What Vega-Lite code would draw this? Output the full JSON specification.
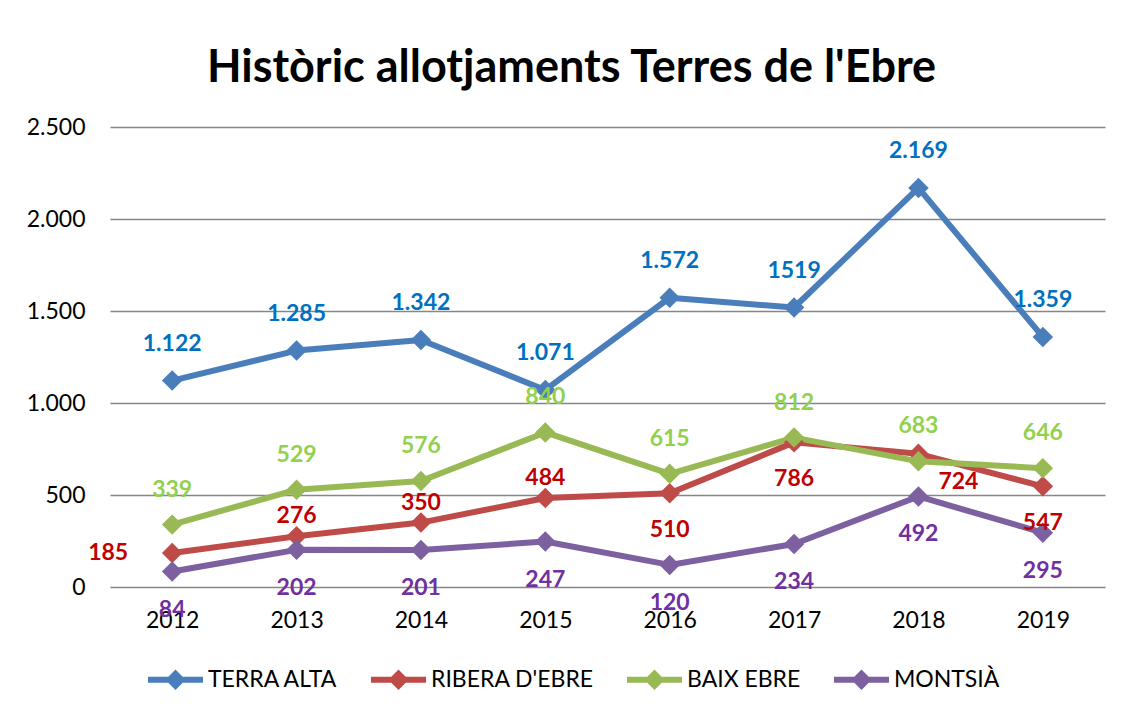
{
  "$schema": "https://vega.github.io/schema/vega-lite/v6.json",
  "width": 995,
  "height": 460,
  "autosize": {"type": "none"},
  "padding": {"left": 110, "top": 127, "right": 17, "bottom": 121},
  "background": "white",
  "title": {
    "text": "Històric allotjaments Terres de l'Ebre",
    "font": "Lato",
    "fontSize": 45,
    "fontWeight": "bold",
    "color": "#000000",
    "anchor": "middle",
    "dx": -36,
    "offset": 25
  },
  "config": {
    "view": {"stroke": null},
    "font": "Lato"
  },
  "data": {
    "values": [
      {"year": "2012", "series": "TERRA ALTA", "value": 1122, "label": "1.122"},
      {"year": "2013", "series": "TERRA ALTA", "value": 1285, "label": "1.285"},
      {"year": "2014", "series": "TERRA ALTA", "value": 1342, "label": "1.342"},
      {"year": "2015", "series": "TERRA ALTA", "value": 1071, "label": "1.071"},
      {"year": "2016", "series": "TERRA ALTA", "value": 1572, "label": "1.572"},
      {"year": "2017", "series": "TERRA ALTA", "value": 1519, "label": "1519"},
      {"year": "2018", "series": "TERRA ALTA", "value": 2169, "label": "2.169"},
      {"year": "2019", "series": "TERRA ALTA", "value": 1359, "label": "1.359"},
      {"year": "2012", "series": "RIBERA D'EBRE", "value": 185, "label": "185"},
      {"year": "2013", "series": "RIBERA D'EBRE", "value": 276, "label": "276"},
      {"year": "2014", "series": "RIBERA D'EBRE", "value": 350, "label": "350"},
      {"year": "2015", "series": "RIBERA D'EBRE", "value": 484, "label": "484"},
      {"year": "2016", "series": "RIBERA D'EBRE", "value": 510, "label": "510"},
      {"year": "2017", "series": "RIBERA D'EBRE", "value": 786, "label": "786"},
      {"year": "2018", "series": "RIBERA D'EBRE", "value": 724, "label": "724"},
      {"year": "2019", "series": "RIBERA D'EBRE", "value": 547, "label": "547"},
      {"year": "2012", "series": "BAIX EBRE", "value": 339, "label": "339"},
      {"year": "2013", "series": "BAIX EBRE", "value": 529, "label": "529"},
      {"year": "2014", "series": "BAIX EBRE", "value": 576, "label": "576"},
      {"year": "2015", "series": "BAIX EBRE", "value": 840, "label": "840"},
      {"year": "2016", "series": "BAIX EBRE", "value": 615, "label": "615"},
      {"year": "2017", "series": "BAIX EBRE", "value": 812, "label": "812"},
      {"year": "2018", "series": "BAIX EBRE", "value": 683, "label": "683"},
      {"year": "2019", "series": "BAIX EBRE", "value": 646, "label": "646"},
      {"year": "2012", "series": "MONTSIÀ", "value": 84, "label": "84"},
      {"year": "2013", "series": "MONTSIÀ", "value": 202, "label": "202"},
      {"year": "2014", "series": "MONTSIÀ", "value": 201, "label": "201"},
      {"year": "2015", "series": "MONTSIÀ", "value": 247, "label": "247"},
      {"year": "2016", "series": "MONTSIÀ", "value": 120, "label": "120"},
      {"year": "2017", "series": "MONTSIÀ", "value": 234, "label": "234"},
      {"year": "2018", "series": "MONTSIÀ", "value": 492, "label": "492"},
      {"year": "2019", "series": "MONTSIÀ", "value": 295, "label": "295"}
    ]
  },
  "encoding": {
    "x": {
      "field": "year",
      "type": "ordinal",
      "scale": {"type": "point", "padding": 0.5},
      "axis": {
        "title": null,
        "domain": false,
        "ticks": false,
        "grid": false,
        "labelAngle": 0,
        "labelFont": "Lato",
        "labelFontSize": 23,
        "labelColor": "#000000",
        "labelPadding": 22
      }
    },
    "y": {
      "field": "value",
      "type": "quantitative",
      "scale": {"domain": [0, 2500], "nice": false},
      "axis": {
        "title": null,
        "domain": false,
        "ticks": false,
        "grid": true,
        "gridColor": "#868686",
        "gridWidth": 1.6,
        "values": [0, 500, 1000, 1500, 2000, 2500],
        "labelExpr": "replace(format(datum.value, ','), ',', '.')",
        "labelFont": "Lato",
        "labelFontSize": 23,
        "labelColor": "#000000",
        "labelPadding": 25
      }
    },
    "color": {
      "field": "series",
      "type": "nominal",
      "sort": ["TERRA ALTA", "RIBERA D'EBRE", "BAIX EBRE", "MONTSIÀ"],
      "scale": {
        "domain": ["TERRA ALTA", "RIBERA D'EBRE", "BAIX EBRE", "MONTSIÀ"],
        "range": ["#4A7EBB", "#BE4B48", "#98B954", "#7D60A0"]
      },
      "legend": {
        "title": null,
        "orient": "none",
        "direction": "horizontal",
        "legendX": 38,
        "legendY": 525,
        "symbolType": "M-1,-0.11L1,-0.11L1,0.11L-1,0.11Z M0,-0.37L0.37,0L0,0.37L-0.37,0Z",
        "symbolSize": 3025,
        "symbolStrokeWidth": 0,
        "symbolOpacity": 1,
        "labelFont": "Lato",
        "labelFontSize": 23,
        "labelColor": "#000000",
        "labelOffset": 5,
        "columnPadding": 33,
        "labelLimit": 300
      }
    }
  },
  "layer": [
    {
      "mark": {"type": "line", "strokeWidth": 6, "strokeCap": "round", "strokeJoin": "round"}
    },
    {
      "mark": {"type": "point", "shape": "diamond", "size": 420, "filled": true, "opacity": 1}
    },
    {
      "transform": [{"filter": "datum.series === 'TERRA ALTA'"}],
      "mark": {"type": "text", "font": "Lato", "fontSize": 23, "fontWeight": "bold", "baseline": "middle", "dy": -37},
      "encoding": {"text": {"field": "label"}, "color": {"value": "#0070C0"}}
    },
    {
      "transform": [{"filter": "datum.series === 'BAIX EBRE'"}],
      "mark": {"type": "text", "font": "Lato", "fontSize": 23, "fontWeight": "bold", "baseline": "middle", "dy": -35},
      "encoding": {"text": {"field": "label"}, "color": {"value": "#92D050"}}
    },
    {
      "transform": [{"filter": "datum.series === \"RIBERA D'EBRE\" && (datum.year === '2013' || datum.year === '2014' || datum.year === '2015')"}],
      "mark": {"type": "text", "font": "Lato", "fontSize": 23, "fontWeight": "bold", "baseline": "middle", "dy": -20},
      "encoding": {"text": {"field": "label"}, "color": {"value": "#C00000"}}
    },
    {
      "transform": [{"filter": "datum.series === \"RIBERA D'EBRE\" && (datum.year === '2016' || datum.year === '2017' || datum.year === '2019')"}],
      "mark": {"type": "text", "font": "Lato", "fontSize": 23, "fontWeight": "bold", "baseline": "middle", "dy": 37},
      "encoding": {"text": {"field": "label"}, "color": {"value": "#C00000"}}
    },
    {
      "transform": [{"filter": "datum.series === \"RIBERA D'EBRE\" && datum.year === '2012'"}],
      "mark": {"type": "text", "font": "Lato", "fontSize": 23, "fontWeight": "bold", "baseline": "middle", "dx": -64},
      "encoding": {"text": {"field": "label"}, "color": {"value": "#C00000"}}
    },
    {
      "transform": [{"filter": "datum.series === \"RIBERA D'EBRE\" && datum.year === '2018'"}],
      "mark": {"type": "text", "font": "Lato", "fontSize": 23, "fontWeight": "bold", "baseline": "middle", "dx": 40, "dy": 28},
      "encoding": {"text": {"field": "label"}, "color": {"value": "#C00000"}}
    },
    {
      "transform": [{"filter": "datum.series === 'MONTSIÀ'"}],
      "mark": {"type": "text", "font": "Lato", "fontSize": 23, "fontWeight": "bold", "baseline": "middle", "dy": 38},
      "encoding": {"text": {"field": "label"}, "color": {"value": "#7030A0"}}
    }
  ]
}
